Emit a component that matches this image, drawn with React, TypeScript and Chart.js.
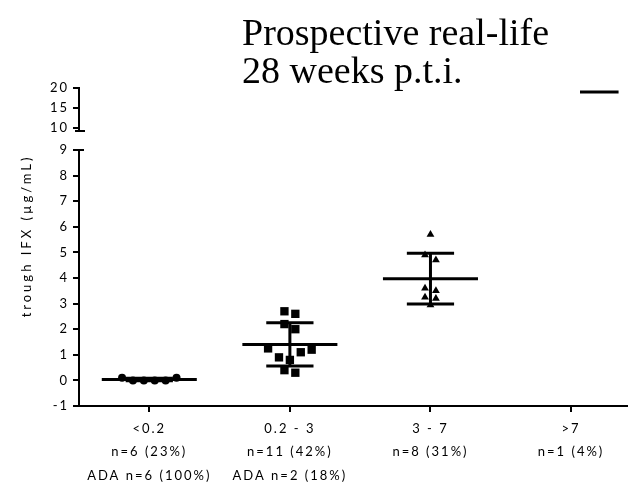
import React, { useEffect, useRef } from 'react';
import { Chart, registerables } from 'chart.js';

Chart.register(...registerables);

// Trough infliximab (µg/mL) per concentration group, 28 weeks post treatment initiation
const groupLabels = ['<0.2', '0.2 - 3', '3 - 7', '>7'];
const groupCounts = ['n=6 (23%)', 'n=11 (42%)', 'n=8 (31%)', 'n=1 (4%)'];
const groupAda = ['ADA n=6 (100%)', 'ADA n=2 (18%)', '', ''];

const troughBelow02 = [0.1, 0, 0, 0, 0, 0.1];
const trough02to3 = [2.7, 2.6, 2.2, 2.0, 1.25, 1.2, 1.1, 0.9, 0.8, 0.4, 0.3];
const trough3to7 = [5.7, 4.9, 4.7, 3.6, 3.5, 3.25, 3.2, 2.95];
const troughAbove7 = [19];

// broken y axis: lower and upper segments
const lowerRange = [-1, 9];
const upperRange = [4.5, 20];
const upperTicks = [10, 15, 20];
const upperFoot = 9.25;

const TEXT_SPACING = '2px';
const FONT = 'Lato';
const MEAN_HALF = 0.338;
const SD_HALF = 0.168;
const SLOT_W = 0.0775;
const ROW_GAP = 0.22;

const avg = (a: number[]) => a.reduce((s, v) => s + v, 0) / a.length;
const stdev = (a: number[]) => {
  if (a.length < 2) return 0;
  const m = avg(a);
  return Math.sqrt(a.reduce((s, v) => s + (v - m) ** 2, 0) / (a.length - 1));
};

// Column scatter layout: points of similar value share a row and spread symmetrically
function swarmSlots(values: number[]): number[] {
  const order = values.map((_, i) => i).sort((a, b) => values[b] - values[a]);
  const rows: number[][] = [];
  let prev = Infinity;
  for (const i of order) {
    if (rows.length === 0 || prev - values[i] > ROW_GAP) rows.push([]);
    rows[rows.length - 1].push(i);
    prev = values[i];
  }
  const slots = new Array(values.length).fill(0);
  for (const row of rows) {
    const n = row.length;
    const half = (n - 1) / 2;
    const seq: number[] = [];
    for (let j = 0; j < Math.floor(n / 2); j++) {
      const l = -half + j;
      const r = half - j;
      if (j % 2 === 0) seq.push(l, r);
      else seq.push(r, l);
    }
    if (n % 2 === 1) seq.push(0);
    row.forEach((idx, k) => (slots[idx] = seq[k]));
  }
  return slots;
}

const groups = [
  { values: troughBelow02, axis: 'y', marker: 'circle', r: 4 },
  { values: trough02to3, axis: 'y', marker: 'rect', r: 5.9 },
  { values: trough3to7, axis: 'y', marker: 'triangle', r: 4.5 },
  { values: troughAbove7, axis: 'yTop', marker: 'rectRot', r: 4.5 },
];

function segment(axis: string, pts: { x: number; y: number }[]) {
  return {
    data: pts,
    yAxisID: axis,
    showLine: true,
    pointRadius: 0,
    borderColor: '#000',
    borderWidth: 3,
    borderCapStyle: 'butt',
  };
}

function buildDatasets() {
  const ds: any[] = [];
  groups.forEach((g, gi) => {
    const slots = swarmSlots(g.values);
    ds.push({
      data: g.values.map((v, i) => ({ x: gi + slots[i] * SLOT_W, y: v })),
      yAxisID: g.axis,
      showLine: false,
      pointStyle: g.marker,
      pointRadius: g.r,
      pointBackgroundColor: '#000',
      pointBorderWidth: 0,
    });
    const m = avg(g.values);
    const s = stdev(g.values);
    ds.push(segment(g.axis, [{ x: gi - MEAN_HALF, y: m }, { x: gi + MEAN_HALF, y: m }]));
    if (g.values.length > 1) {
      ds.push(segment(g.axis, [{ x: gi, y: m - s }, { x: gi, y: m + s }]));
      ds.push(segment(g.axis, [{ x: gi - SD_HALF, y: m + s }, { x: gi + SD_HALF, y: m + s }]));
      ds.push(segment(g.axis, [{ x: gi - SD_HALF, y: m - s }, { x: gi + SD_HALF, y: m - s }]));
    }
  });
  return ds;
}

const spacingPlugin = {
  id: 'letterSpacing',
  beforeLayout(chart: any) {
    chart.ctx.letterSpacing = TEXT_SPACING;
  },
  beforeDraw(chart: any) {
    chart.ctx.letterSpacing = TEXT_SPACING;
  },
};

const decorPlugin = {
  id: 'decor',
  afterDraw(chart: any) {
    const ctx = chart.ctx as CanvasRenderingContext2D;
    const low = chart.scales.y;
    const top = chart.scales.yTop;
    const x = Math.round(chart.chartArea.left);
    ctx.save();
    ctx.fillStyle = '#000';
    // upper axis segment with its foot
    const yTopEnd = top.getPixelForValue(upperRange[1]);
    const yFoot = top.getPixelForValue(upperFoot);
    ctx.fillRect(x - 1, yTopEnd - 1, 2, yFoot - yTopEnd + 2);
    ctx.fillRect(x - 4, yFoot - 1, 10, 2);
    // cap on the lower segment
    const yCap = low.getPixelForValue(lowerRange[1]);
    ctx.fillRect(x - 6, yCap - 1, 11, 2);

    // y axis title
    ctx.letterSpacing = '3px';
    ctx.font = `13px ${FONT}`;
    ctx.textAlign = 'center';
    ctx.textBaseline = 'middle';
    ctx.translate(19, 228);
    ctx.rotate(-Math.PI / 2);
    ctx.fillText('trough IFX (µg/mL)', 0, 0);
    ctx.restore();

    // heading block
    ctx.save();
    ctx.letterSpacing = '0px';
    ctx.fillStyle = '#fff';
    ctx.fillRect(230, 0, 342, 90);
    ctx.fillStyle = '#000';
    ctx.font = '38px "Liberation Serif"';
    ctx.textAlign = 'left';
    ctx.textBaseline = 'alphabetic';
    ctx.fillText('Prospective real-life', 234, 37);
    ctx.fillText('28 weeks p.t.i.', 234, 75);
    ctx.restore();
  },
};

export default function App() {
  const ref = useRef<HTMLCanvasElement | null>(null);

  useEffect(() => {
    if (!ref.current) return;
    const tickFont = { family: FONT, size: 13 };
    const chart = new Chart(ref.current, {
      type: 'scatter',
      data: { datasets: buildDatasets() },
      options: {
        animation: false,
        responsive: false,
        events: [],
        layout: { padding: { top: 80, left: 0, right: 0, bottom: 0 } },
        plugins: { legend: { display: false }, tooltip: { enabled: false }, title: { display: false } },
        scales: {
          x: {
            type: 'linear',
            position: 'bottom',
            min: -0.5,
            max: 3.42,
            afterBuildTicks: (s: any) => {
              s.ticks = groupLabels.map((_, i) => ({ value: i }));
            },
            afterFit: (s: any) => {
              s.height = 82;
            },
            ticks: {
              color: '#000',
              font: { ...tickFont, lineHeight: 1.8 },
              padding: 5,
              maxRotation: 0,
              autoSkip: false,
              callback: (v: any) => {
                const i = Math.round(Number(v));
                return [groupLabels[i], groupCounts[i], groupAda[i]].filter((t) => t !== '');
              },
            },
            grid: { drawOnChartArea: false, drawTicks: true, tickLength: 6, color: '#000', lineWidth: 2 },
            border: { display: true, color: '#000', width: 2 },
          },
          y: {
            type: 'linear',
            position: 'left',
            stack: 'ifx',
            stackWeight: 256,
            min: lowerRange[0],
            max: lowerRange[1],
            afterFit: (s: any) => {
              s.width = 71;
            },
            ticks: { stepSize: 1, autoSkip: false, color: '#000', font: tickFont, padding: 4 },
            grid: { drawOnChartArea: false, drawTicks: true, tickLength: 6, color: '#000', lineWidth: 2 },
            border: { display: true, color: '#000', width: 2 },
          },
          yTop: {
            type: 'linear',
            position: 'left',
            stack: 'ifx',
            stackWeight: 62,
            min: upperRange[0],
            max: upperRange[1],
            afterBuildTicks: (s: any) => {
              s.ticks = upperTicks.map((v) => ({ value: v }));
            },
            afterFit: (s: any) => {
              s.width = 71;
            },
            ticks: { autoSkip: false, color: '#000', font: tickFont, padding: 4 },
            grid: { drawOnChartArea: false, drawTicks: true, tickLength: 6, color: '#000', lineWidth: 2 },
            border: { display: false },
          },
        },
      } as any,
      plugins: [spacingPlugin, decorPlugin],
    });
    return () => chart.destroy();
  }, []);

  return (
    <div style={{ width: 628, height: 480, overflow: 'hidden' }}>
      <canvas ref={ref} width={628} height={480} style={{ display: 'block' }} />
    </div>
  );
}
